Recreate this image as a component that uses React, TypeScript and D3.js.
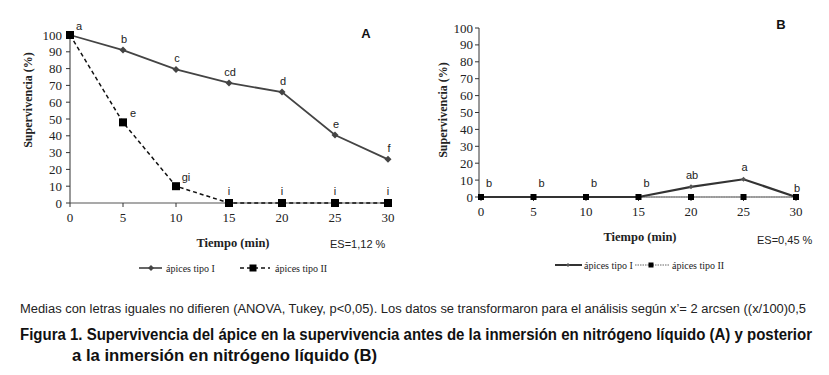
import React from "react";
import * as d3 from "d3";

const minutes = [0, 5, 10, 15, 20, 25, 30];
const yTicks = [0, 10, 20, 30, 40, 50, 60, 70, 80, 90, 100];

const aTipoI = [100, 91, 79.5, 71.5, 66, 40.5, 26];
const aTipoII = [100, 48, 10, 0, 0, 0, 0];
const aLettersI = ["a", "b", "c", "cd", "d", "e", "f"];
const aLettersII = ["", "e", "gi", "i", "i", "i", "i"];

const bTipoI = [0, 0, 0, 0, 6, 10.5, 0];
const bTipoII = [0, 0, 0, 0, 0, 0, 0];
const bLettersI = ["b", "b", "b", "b", "ab", "a", "b"];

const seriesNames = ["ápices tipo I", "ápices tipo II"];
const footnote =
  "Medias con letras iguales no difieren (ANOVA, Tukey, p<0,05). Los datos se transformaron para el análisis según x’= 2 arcsen ((x/100)0,5";
const title1 =
  "Figura 1. Supervivencia del ápice en la supervivencia antes de la inmersión en nitrógeno líquido (A) y posterior";
const title2 = "a la inmersión en nitrógeno líquido (B)";

const serif = "'Liberation Serif', 'Times New Roman', serif";
const sans = "'Liberation Sans', Arial, sans-serif";
const narrow = "'Liberation Sans Narrow', 'Arial Narrow', 'Liberation Sans', sans-serif";

function Axes({ x, y, axisX, labelX, tickLabelY }) {
  const [, r1] = x.range();
  return (
    <g>
      <line x1={axisX} x2={axisX} y1={y(0)} y2={y(100)} stroke="#333" strokeWidth={1} />
      <line x1={axisX} x2={r1} y1={y(0)} y2={y(0)} stroke="#555" strokeWidth={1.2} />
      {yTicks.map((t) => (
        <g key={t}>
          <line x1={axisX - 4} x2={axisX} y1={y(t)} y2={y(t)} stroke="#333" />
          <text x={labelX} y={y(t) + 4.5} textAnchor="end" fontFamily={serif} fontSize={13} fill="#222">
            {t}
          </text>
        </g>
      ))}
      {minutes.map((m) => (
        <g key={m}>
          <line x1={x(m)} x2={x(m)} y1={y(0)} y2={y(0) + 4} stroke="#333" />
          <text x={x(m)} y={tickLabelY} textAnchor="middle" fontFamily={serif} fontSize={13} fill="#222">
            {m}
          </text>
        </g>
      ))}
    </g>
  );
}

function Diamond({ cx, cy, s = 3.5, fill = "#444" }) {
  return (
    <path d={`M${cx},${cy - s}L${cx + s},${cy}L${cx},${cy + s}L${cx - s},${cy}Z`} fill={fill} />
  );
}

function Square({ cx, cy, s = 8 }) {
  return <rect x={cx - s / 2} y={cy - s / 2} width={s} height={s} fill="#000" />;
}

export default function App() {
  const xA = d3.scaleLinear().domain([0, 30]).range([70, 388]);
  const yA = d3.scaleLinear().domain([0, 100]).range([203, 35]);
  const xB = d3.scaleLinear().domain([0, 30]).range([481, 796]);
  const yB = d3.scaleLinear().domain([0, 100]).range([197, 28]);

  const lineA = (vals) =>
    d3.line().x((_, i) => xA(minutes[i])).y((v) => yA(v))(vals);
  const lineB = (vals) =>
    d3.line().x((_, i) => xB(minutes[i])).y((v) => yB(v))(vals);

  return (
    <svg width={829} height={375} style={{ position: "absolute", left: 0, top: 0, background: "#fff" }}>
      <rect width={829} height={375} fill="#fff" />
      {/* Chart A */}
      <Axes x={xA} y={yA} axisX={70} labelX={62} tickLabelY={222} />
      <text
        transform="translate(32,100) rotate(-90)"
        textAnchor="middle"
        fontFamily={serif}
        fontWeight="bold"
        fontSize={12}
        fill="#222"
      >
        Supervivencia  (%)
      </text>
      <path d={lineA(aTipoII)} fill="none" stroke="#111" strokeWidth={1.5} strokeDasharray="4,3" />
      <path d={lineA(aTipoI)} fill="none" stroke="#444" strokeWidth={1.8} />
      {aTipoI.map((v, i) => (
        <Diamond key={i} cx={xA(minutes[i])} cy={yA(v)} />
      ))}
      {aTipoII.map((v, i) => (
        <Square key={i} cx={xA(minutes[i])} cy={yA(v)} />
      ))}
      {aLettersI.map((l, i) => (
        <text
          key={i}
          x={i === 0 ? xA(minutes[i]) + 9 : xA(minutes[i]) + 1}
          y={i === 0 ? yA(aTipoI[i]) - 5 : yA(aTipoI[i]) - 7}
          textAnchor="middle"
          fontFamily={sans}
          fontSize={11}
          fill="#222"
        >
          {l}
        </text>
      ))}
      {aLettersII.map((l, i) =>
        l ? (
          <text
            key={i}
            x={i < 3 ? xA(minutes[i]) + 10 : xA(minutes[i])}
            y={i < 3 ? yA(aTipoII[i]) - 5 : yA(aTipoII[i]) - 8}
            textAnchor="middle"
            fontFamily={sans}
            fontSize={11}
            fill="#222"
          >
            {l}
          </text>
        ) : null
      )}
      <text x={366} y={38} textAnchor="middle" fontFamily={sans} fontWeight="bold" fontSize={13} fill="#111">
        A
      </text>
      <text x={233} y={247} textAnchor="middle" fontFamily={serif} fontWeight="bold" fontSize={12.5} fill="#222">
        Tiempo (min)
      </text>
      <text x={330} y={248} fontFamily={sans} fontSize={11} fill="#222">
        ES=1,12 %
      </text>
      {/* legend A */}
      <line x1={139} x2={162} y1={268} y2={268} stroke="#333" strokeWidth={1.5} />
      <Diamond cx={151} cy={268} s={3} />
      <text x={166} y={271.5} fontFamily={serif} fontSize={10} fill="#222">
        {seriesNames[0]}
      </text>
      <line x1={240} x2={270} y1={268} y2={268} stroke="#111" strokeWidth={1.5} strokeDasharray="4,3" />
      <Square cx={253} cy={268} s={7} />
      <text x={275} y={271.5} fontFamily={serif} fontSize={10} fill="#222">
        {seriesNames[1]}
      </text>

      {/* Chart B */}
      <Axes x={xB} y={yB} axisX={479} labelX={473} tickLabelY={216} />
      <text
        transform="translate(447,110) rotate(-90)"
        textAnchor="middle"
        fontFamily={serif}
        fontWeight="bold"
        fontSize={12}
        fill="#222"
      >
        Supervivencia  (%)
      </text>
      <path d={lineB(bTipoII)} fill="none" stroke="#888" strokeWidth={1} strokeDasharray="1.5,1" />
      <path d={lineB(bTipoI)} fill="none" stroke="#333" strokeWidth={2.2} />
      {bTipoI.map((v, i) => (
        <Diamond key={i} cx={xB(minutes[i])} cy={yB(v)} s={2.5} fill="#555" />
      ))}
      {bTipoII.map((v, i) => (
        <Square key={i} cx={xB(minutes[i])} cy={yB(v)} s={6} />
      ))}
      {bLettersI.map((l, i) => (
        <text
          key={i}
          x={i < 4 ? xB(minutes[i]) + 8 : xB(minutes[i]) + 1}
          y={i < 4 ? yB(bTipoI[i]) - 10 : i === 6 ? yB(bTipoI[i]) - 5 : yB(bTipoI[i]) - 8}
          textAnchor="middle"
          fontFamily={sans}
          fontSize={11}
          fill="#222"
        >
          {l}
        </text>
      ))}
      <text x={781} y={29} textAnchor="middle" fontFamily={sans} fontWeight="bold" fontSize={13} fill="#111">
        B
      </text>
      <text x={640} y={241} textAnchor="middle" fontFamily={serif} fontWeight="bold" fontSize={12.5} fill="#222">
        Tiempo (min)
      </text>
      <text x={757} y={244} fontFamily={sans} fontSize={11} fill="#222">
        ES=0,45 %
      </text>
      {/* legend B */}
      <line x1={555} x2={582} y1={265} y2={265} stroke="#333" strokeWidth={2} />
      <Diamond cx={568} cy={265} s={2} fill="#555" />
      <text x={584} y={268.5} fontFamily={serif} fontSize={10} fill="#222">
        {seriesNames[0]}
      </text>
      <line x1={635} x2={669} y1={265} y2={265} stroke="#666" strokeWidth={1} strokeDasharray="1.5,1" />
      <Square cx={651} cy={265} s={5} />
      <text x={672} y={268.5} fontFamily={serif} fontSize={10} fill="#222">
        {seriesNames[1]}
      </text>

      {/* Captions */}
      <text x={20} y={313} fontFamily={narrow} fontSize={12.5} fill="#222" textLength={786} lengthAdjust="spacingAndGlyphs">
        {footnote}
      </text>
      <text
        x={20}
        y={340}
        fontFamily={narrow}
        fontWeight="bold"
        fontSize={16}
        fill="#111"
        textLength={792}
        lengthAdjust="spacingAndGlyphs"
      >
        {title1}
      </text>
      <text
        x={72}
        y={361}
        fontFamily={narrow}
        fontWeight="bold"
        fontSize={16}
        fill="#111"
        textLength={305}
        lengthAdjust="spacingAndGlyphs"
      >
        {title2}
      </text>
    </svg>
  );
}
